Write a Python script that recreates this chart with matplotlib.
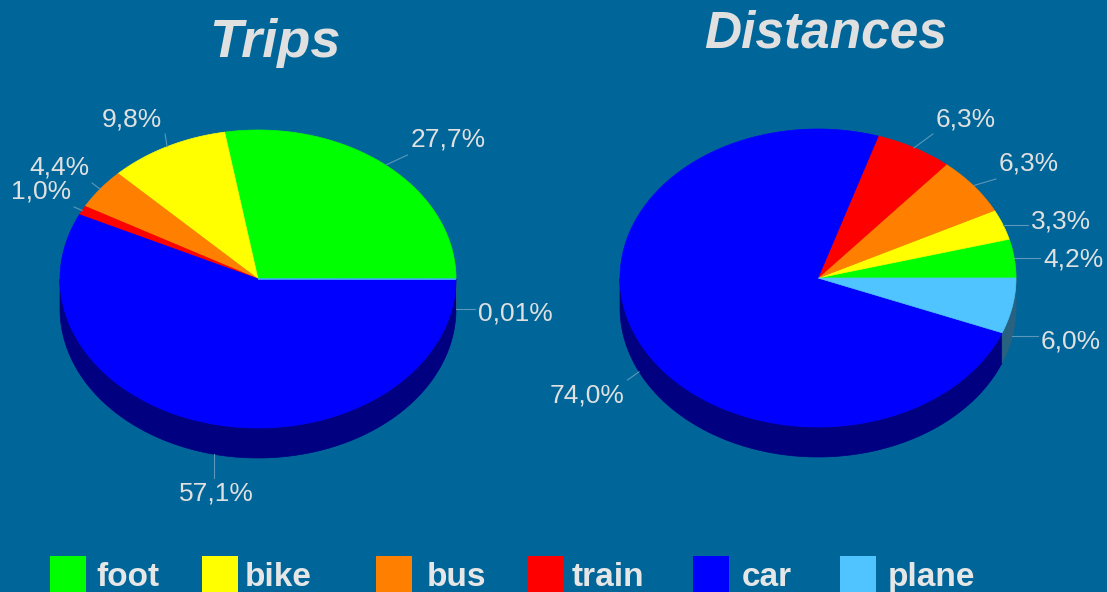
import matplotlib.pyplot as plt
import numpy as np
from matplotlib.patches import Polygon, Rectangle
from matplotlib.colors import to_rgb

# shares per transport mode, in percent
modes = ['foot', 'bike', 'bus', 'train', 'car', 'plane']
trips = [27.7, 9.8, 4.4, 1.0, 57.1, 0.01]
distances = [4.2, 3.3, 6.3, 6.3, 74.0, 6.0]
titles = ['Trips', 'Distances']

colors = ['#00ff00', '#ffff00', '#ff8000', '#ff0000', '#0000ff', '#50c4ff']
bg = '#006699'
txt = '#e0e0e0'
leader = '#5a97bb'

# layout in pixels (figure is 1107 x 592)
W, H = 1107, 592
centers = [(258, 279), (818, 278)]
rx, ry, depth = 198, 149, 30
title_xy = [(275, 57), (826, 47)]
title_size = [39, 37]
label_xy = [
    [(448, 147), (132, 126), (59, 175), (41, 199), (216, 500), (515, 321)],
    [(1073, 267), (1061, 229), (1029, 171), (966, 126), (587, 402), (1071, 349)],
]
legend_box_x = [50, 202, 376, 527, 693, 840]
legend_txt_x = [96, 245, 427, 572, 742, 888]


def fmt(v):
    s = f'{v:.2f}' if v < 0.1 else f'{v:.1f}'
    return s.replace('.', ',') + '%'


def edge(cx, cy, t):
    return cx + rx * np.cos(t), cy - ry * np.sin(t)


fig = plt.figure(figsize=(W / 100, H / 100), dpi=100, facecolor=bg)
ax = fig.add_axes([0, 0, 1, 1])
ax.set_xlim(0, W)
ax.set_ylim(H, 0)
ax.axis('off')
ax.set_facecolor(bg)

texts = []
for (cx, cy), values, labels, title, txy, tsize in zip(
        centers, [trips, distances], label_xy, titles, title_xy, title_size):
    vals = np.array(values)
    bounds = np.concatenate([[0], np.cumsum(vals)]) / vals.sum() * 2 * np.pi

    # sides of the front half, drawn before the top face
    for i in range(len(vals)):
        s = max(bounds[i], np.pi)
        e = min(bounds[i + 1], 2 * np.pi)
        if e <= s:
            continue
        t = np.linspace(s, e, 200)
        x, y = edge(cx, cy, t)
        pts = np.column_stack([np.r_[x, x[::-1]], np.r_[y, y[::-1] + depth]])
        side = tuple(c * 0.5 for c in to_rgb(colors[i]))
        ax.add_patch(Polygon(pts, closed=True, fc=side, ec=side, lw=0.5))

    # top face
    for i in range(len(vals)):
        t = np.linspace(bounds[i], bounds[i + 1], 200)
        x, y = edge(cx, cy, t)
        pts = np.column_stack([np.r_[cx, x], np.r_[cy, y]])
        ax.add_patch(Polygon(pts, closed=True, fc=colors[i], ec=colors[i], lw=0.5))

    for i, v in enumerate(vals):
        lx, ly = labels[i]
        tx = ax.text(lx, ly, fmt(v), ha='center', va='baseline', color=txt,
                     fontsize=19, family='Liberation Sans')
        mid = (bounds[i] + bounds[i + 1]) / 2
        sx, sy = edge(cx, cy, mid)
        if np.sin(mid) < 0:
            sy += depth
        texts.append((tx, sx, sy))

    ax.text(txy[0], txy[1], title, ha='center', va='baseline', color=txt,
            fontsize=tsize, fontweight='bold', fontstyle='italic',
            family='Liberation Sans')

# leader lines from the slice edge to the nearest side of its label
fig.canvas.draw()
r = fig.canvas.get_renderer()
inv = ax.transData.inverted()
for tx, sx, sy in texts:
    bb = tx.get_window_extent(r).transformed(inv)
    x0, x1 = sorted([bb.x0, bb.x1])
    y0, y1 = sorted([bb.y0, bb.y1])
    pad = 3
    ex = np.clip(sx, x0 - pad, x1 + pad)
    ey = np.clip(sy, y0 - pad, y1 + pad)
    ax.plot([sx, ex], [sy, ey], color=leader, lw=0.8)

# legend
for i, m in enumerate(modes):
    ax.add_patch(Rectangle((legend_box_x[i], 556), 36, 36, fc=colors[i], ec='none'))
    ax.text(legend_txt_x[i], 586, m, ha='left', va='baseline', color='#e6e6e6',
            fontsize=24, fontweight='bold', family='Liberation Sans')

fig.savefig('out.png', dpi=100, facecolor=bg)
